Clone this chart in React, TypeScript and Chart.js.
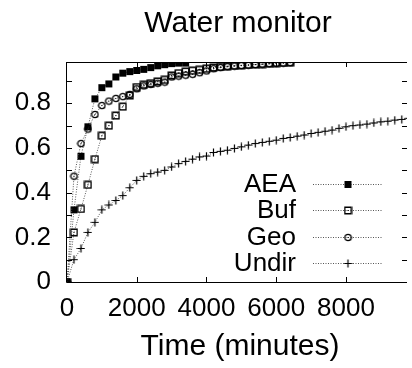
import React, { useEffect, useRef } from "react";
import { Chart, registerables } from "chart.js";

Chart.register(...registerables);

const TITLE = "Water monitor";
const X_TITLE = "Time (minutes)";
const SERIES_NAMES = ["AEA", "Buf", "Geo", "Undir"];

// sample times (minutes)
const times = [
  0, 200, 400, 600, 800, 1000, 1200, 1400, 1600, 1800,
  2000, 2200, 2400, 2600, 2800, 3000, 3200, 3400, 3600, 3800,
  4000, 4200, 4400, 4600, 4800, 5000, 5200, 5400, 5600, 5800,
  6000, 6200, 6400, 6600, 6800, 7000, 7200, 7400, 7600, 7800,
  8000, 8200, 8400, 8600, 8800, 9000, 9200, 9400, 9600, 9800,
];

const aea = [
  0, 0.323, 0.563, 0.695, 0.82, 0.87, 0.887, 0.918, 0.935, 0.942,
  0.947, 0.952, 0.96, 0.968, 0.973, 0.978, 0.98, 0.98,
];

const buf = [
  0, 0.222, 0.327, 0.435, 0.55, 0.655, 0.7, 0.745, 0.785, 0.835,
  0.873, 0.883, 0.89, 0.898, 0.905, 0.925, 0.935, 0.942, 0.946, 0.95,
  0.955, 0.96, 0.963, 0.966, 0.968, 0.97, 0.972, 0.974, 0.976, 0.978,
  0.98, 0.981, 0.982,
];

const geo = [
  0, 0.474, 0.62, 0.685, 0.75, 0.79, 0.81, 0.822, 0.83, 0.84,
  0.865, 0.878, 0.885, 0.89, 0.895, 0.918, 0.922, 0.926, 0.93, 0.937,
  0.945, 0.955, 0.96, 0.964, 0.967, 0.969, 0.971, 0.973, 0.975, 0.977,
  0.979, 0.98, 0.982,
];

const undir = [
  0, 0.1, 0.15, 0.222, 0.267, 0.323, 0.345, 0.365, 0.387, 0.422,
  0.455, 0.473, 0.485, 0.492, 0.5, 0.515, 0.53, 0.54, 0.55, 0.56,
  0.564, 0.58, 0.585, 0.59, 0.598, 0.605, 0.613, 0.62, 0.625, 0.63,
  0.635, 0.643, 0.647, 0.653, 0.658, 0.665, 0.67, 0.675, 0.68, 0.688,
  0.695, 0.7, 0.703, 0.707, 0.712, 0.717, 0.72, 0.725, 0.728, 0.733,
];

const yTickLabels = ["0", "0.2", "0.4", "0.6", "0.8"];
const xTickLabels = ["0", "2000", "4000", "6000", "8000"];
const yTickValues = [0, 0.1, 0.2, 0.3, 0.4, 0.5, 0.6, 0.7, 0.8, 0.9];

const FONT = "'Liberation Sans', Arial, Helvetica, sans-serif";

function makeMarker(kind: string): HTMLCanvasElement {
  const c = document.createElement("canvas");
  const s = 9;
  c.width = s;
  c.height = s;
  const g = c.getContext("2d")!;
  g.strokeStyle = "#000";
  g.fillStyle = "#000";
  if (kind === "aea") {
    g.fillRect(1, 1, 7, 7);
  } else if (kind === "buf") {
    g.lineWidth = 1.5;
    g.strokeRect(1.25, 1.25, 6.5, 6.5);
    g.fillRect(4, 4, 1, 1);
  } else if (kind === "geo") {
    g.lineWidth = 1.3;
    g.beginPath();
    g.arc(4.5, 4.5, 3.2, 0, Math.PI * 2);
    g.stroke();
    g.fillRect(4, 4, 1, 1);
  } else {
    g.lineWidth = 1.2;
    g.beginPath();
    g.moveTo(0.5, 4.5);
    g.lineTo(8.5, 4.5);
    g.moveTo(4.5, 0.5);
    g.lineTo(4.5, 8.5);
    g.stroke();
  }
  return c;
}

export default function App() {
  const ref = useRef<HTMLCanvasElement | null>(null);

  useEffect(() => {
    const canvas = ref.current;
    if (!canvas) return;
    const markers = [makeMarker("aea"), makeMarker("buf"), makeMarker("geo"), makeMarker("undir")];
    const series = [aea, buf, geo, undir];

    const datasets = series.map((vals, k) => ({
      label: SERIES_NAMES[k],
      data: vals.map((v, i) => ({ x: times[i], y: v })),
      borderColor: "#555",
      borderWidth: 1,
      borderDash: [1, 1.5],
      pointStyle: markers[k] as any,
      pointRadius: 4,
      pointHoverRadius: 4,
      fill: false,
      tension: 0,
      order: 3 - k,
    }));

    const decor = {
      id: "decor",
      afterDraw(chart: any) {
        const { ctx, chartArea: a, scales } = chart;
        const xs = scales.x;
        const ys = scales.y;
        ctx.save();
        ctx.strokeStyle = "#000";
        ctx.lineWidth = 1;
        // frame
        ctx.beginPath();
        ctx.moveTo(a.left - 0.5, a.top + 0.5);
        ctx.lineTo(a.right, a.top + 0.5);
        ctx.moveTo(a.left - 0.5, a.top);
        ctx.lineTo(a.left - 0.5, a.bottom + 0.5);
        ctx.lineTo(a.right, a.bottom + 0.5);
        ctx.stroke();
        // inward tick marks (from the scales' own ticks)
        ctx.beginPath();
        ys.ticks.forEach((t: any) => {
          if (t.value <= 0) return;
          const py = Math.round(ys.getPixelForValue(t.value)) + 0.5;
          ctx.moveTo(a.left, py);
          ctx.lineTo(a.left + 5, py);
          ctx.moveTo(a.right - 5, py);
          ctx.lineTo(a.right, py);
        });
        xs.ticks.forEach((t: any) => {
          if (t.value <= 0) return;
          const px = Math.round(xs.getPixelForValue(t.value)) + 0.5;
          ctx.moveTo(px, a.bottom);
          ctx.lineTo(px, a.bottom - 5);
          ctx.moveTo(px, a.top);
          ctx.lineTo(px, a.top + 5);
        });
        ctx.stroke();

        // titles
        ctx.fillStyle = "#000";
        ctx.textAlign = "center";
        ctx.textBaseline = "alphabetic";
        ctx.font = `30px ${FONT}`;
        ctx.fillText(TITLE, 238, 32);
        ctx.fillText(X_TITLE, 240, 355);

        // legend
        const rowsY = [184, 210, 237, 263];
        ctx.font = `26px ${FONT}`;
        ctx.textAlign = "right";
        ctx.textBaseline = "middle";
        SERIES_NAMES.forEach((name, k) => {
          const yy = rowsY[k];
          ctx.fillStyle = "#000";
          ctx.fillText(name, 296, yy + 1);
          ctx.save();
          ctx.strokeStyle = "#555";
          ctx.setLineDash([1, 1.5]);
          ctx.beginPath();
          ctx.moveTo(313, yy + 0.5);
          ctx.lineTo(382, yy + 0.5);
          ctx.stroke();
          ctx.restore();
          const m = markers[k];
          ctx.drawImage(m, 348 - m.width / 2, yy + 0.5 - m.height / 2);
        });
        ctx.restore();
      },
    };

    const chart = new Chart(canvas, {
      type: "line",
      data: { datasets: datasets as any },
      options: {
        animation: false,
        responsive: false,
        devicePixelRatio: 1,
        layout: { padding: { top: 62, right: 0, left: 0, bottom: 0 } },
        plugins: {
          legend: { display: false },
          title: { display: false },
          tooltip: { enabled: false },
        },
        scales: {
          x: {
            type: "linear",
            min: 0,
            max: 9750,
            grid: { display: false, drawTicks: false },
            border: { display: false },
            afterBuildTicks: (s: any) => {
              s.ticks = xTickLabels.map((l) => ({ value: Number(l) }));
            },
            afterFit: (s: any) => {
              s.height = 86;
            },
            ticks: {
              autoSkip: false,
              maxRotation: 0,
              minRotation: 0,
              padding: 11,
              color: "#000",
              font: { family: FONT, size: 26 },
              callback: (v: any, i: number) => xTickLabels[i] ?? "",
            },
          },
          y: {
            type: "linear",
            min: 0,
            max: 0.985,
            grid: { display: false, drawTicks: false },
            border: { display: false },
            afterBuildTicks: (s: any) => {
              s.ticks = yTickValues.map((v) => ({ value: v }));
            },
            afterFit: (s: any) => {
              s.width = 67;
            },
            ticks: {
              autoSkip: false,
              padding: 16,
              color: "#000",
              font: { family: FONT, size: 26 },
              callback: (v: any) => {
                const r = String(Math.round(Number(v) * 10) / 10);
                return yTickLabels.indexOf(r) >= 0 ? r : "";
              },
            },
          },
        },
      },
      plugins: [decor],
    });
    return () => chart.destroy();
  }, []);

  return (
    <div style={{ position: "fixed", left: 0, top: 0, width: 412, height: 368, background: "#fff" }}>
      <canvas ref={ref} width={412} height={368} style={{ display: "block" }} />
    </div>
  );
}
